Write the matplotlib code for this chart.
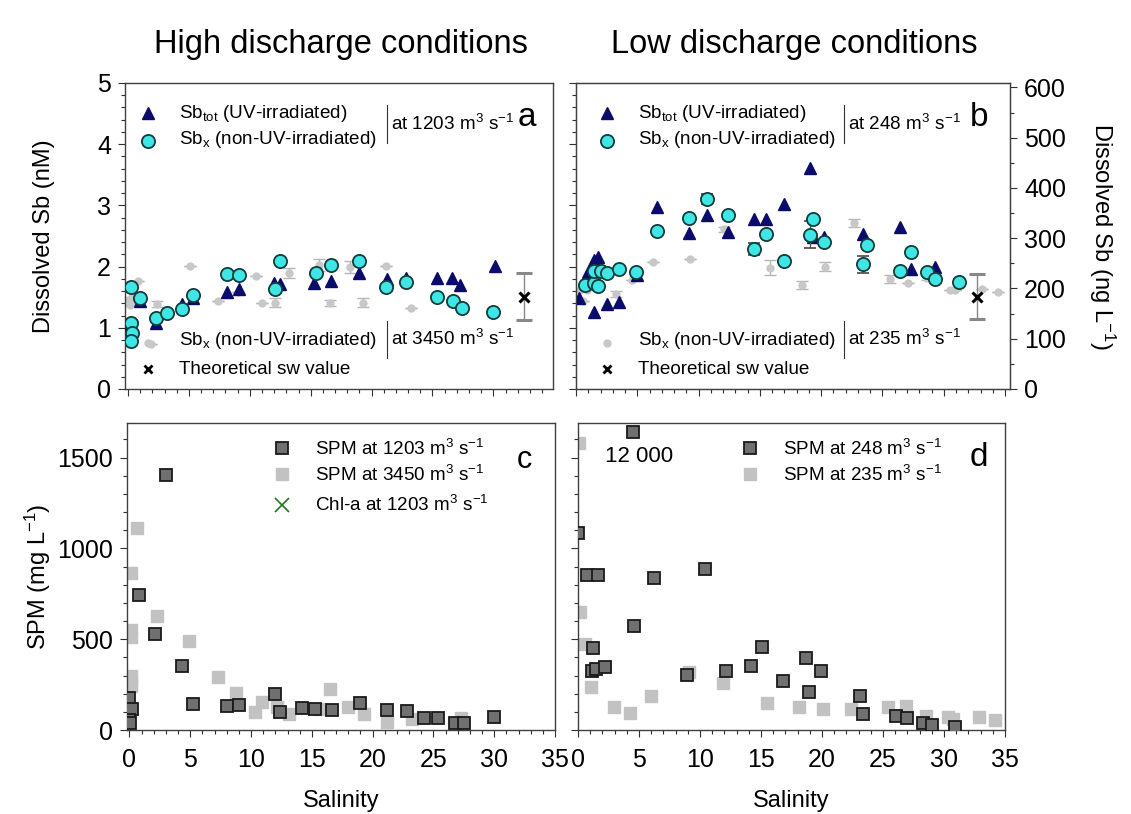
import matplotlib
matplotlib.use("Agg")
import matplotlib.pyplot as plt
from matplotlib.ticker import MultipleLocator
import numpy as np

plt.rcParams['font.family'] = ['Liberation Sans', 'DejaVu Sans']
plt.rcParams['mathtext.fontset'] = 'custom'
plt.rcParams['mathtext.rm'] = 'Liberation Sans'
plt.rcParams['mathtext.default'] = 'regular'

# ---- panel a : high discharge, dissolved Sb (nM) ----
a_tot_s = [0.2, 1.0, 2.3, 4.4, 5.3, 8.1, 9.1, 12.0, 12.5, 15.3, 16.7, 19.0, 21.3, 22.8, 25.4, 26.6, 27.3, 30.1]
a_tot_v = [1.05, 1.44, 1.08, 1.39, 1.49, 1.59, 1.64, 1.74, 1.72, 1.74, 1.77, 1.90, 1.80, 1.81, 1.82, 1.82, 1.70, 2.01]

a_x_s = [0.25, 0.25, 0.3, 0.25, 1.0, 2.3, 3.2, 4.4, 5.3, 8.1, 9.1, 12.1, 12.5, 15.4, 16.7, 19.0, 21.2, 22.8, 25.4, 26.7, 27.4, 30.0]
a_x_v = [1.66, 1.08, 0.92, 0.78, 1.49, 1.16, 1.25, 1.31, 1.54, 1.88, 1.87, 1.63, 2.09, 1.90, 2.02, 2.09, 1.66, 1.75, 1.51, 1.43, 1.33, 1.26]

a_hi_s = [0.1, 0.2, 0.3, 0.4, 0.3, 0.8, 1.9, 2.4, 5.1, 7.4, 9.0, 10.5, 11.0, 12.1, 13.2, 15.7, 16.6, 18.2, 19.3, 21.2, 23.2, 27.2]
a_hi_v = [1.45, 1.38, 1.50, 1.42, 1.11, 1.77, 0.74, 1.39, 2.01, 1.44, 1.58, 1.84, 1.41, 1.41, 1.90, 2.03, 1.41, 1.99, 1.41, 2.01, 1.33, 1.38]
a_hi_e = [0, 0, 0, 0, 0, 0, 0, 0.05, 0, 0, 0, 0, 0, 0.07, 0.08, 0.10, 0.05, 0.10, 0.07, 0, 0, 0]

a_sw = (32.5, 1.51, 0.38)

# ---- panel b : low discharge, dissolved Sb (nM) ----
b_tot_s = [0.25, 1.0, 1.5, 1.8, 1.9, 1.5, 2.5, 3.5, 5.0, 6.6, 9.2, 10.7, 12.4, 14.5, 15.5, 17.0, 19.1, 19.3, 20.2, 23.4, 26.4, 27.3, 29.3]
b_tot_v = [1.49, 1.91, 2.11, 2.16, 2.03, 1.26, 1.39, 1.42, 1.86, 2.97, 2.55, 2.84, 2.57, 2.78, 2.78, 3.02, 3.61, 2.48, 2.48, 2.53, 2.65, 1.96, 1.99]

b_x_s = [0.7, 1.5, 1.8, 1.5, 2.0, 2.5, 3.5, 4.9, 6.6, 9.2, 10.7, 12.4, 14.5, 15.5, 17.0, 19.3, 19.1, 20.2, 23.7, 23.4, 26.4, 27.3, 28.6, 29.3, 31.2]
b_x_v = [1.70, 1.73, 1.68, 1.93, 1.93, 1.90, 1.96, 1.91, 2.58, 2.79, 3.10, 2.84, 2.29, 2.53, 2.09, 2.78, 2.52, 2.40, 2.35, 2.04, 1.93, 2.24, 1.91, 1.80, 1.75]
b_x_e = [0, 0, 0, 0, 0, 0, 0, 0, 0, 0, 0.08, 0, 0.10, 0, 0, 0, 0.22, 0, 0, 0.14, 0.04, 0, 0, 0, 0.04]

b_lo_s = [0.3, 0.6, 0.9, 1.3, 3.3, 4.6, 6.3, 9.3, 12.1, 15.8, 18.4, 20.3, 22.7, 25.6, 27.1, 28.6, 30.5, 30.9, 33.1, 34.4]
b_lo_v = [1.62, 1.43, 1.62, 1.70, 1.55, 1.78, 2.08, 2.12, 2.61, 1.98, 1.70, 2.00, 2.71, 1.80, 1.73, 1.81, 1.62, 1.62, 1.63, 1.58]
b_lo_e = [0, 0, 0, 0, 0.05, 0, 0, 0, 0.04, 0.12, 0.06, 0.07, 0.06, 0.06, 0, 0.03, 0, 0, 0, 0]

b_sw = (32.7, 1.51, 0.37)

# ---- panel c : SPM high discharge (mg/L) ----
c_dark_s = [3.0, 0.75, 2.1, 4.3, 0.0, 0.2, 0.0, 0.05, 5.2, 8.0, 9.0, 12.0, 12.4, 14.2, 15.3, 16.7, 19.0, 21.2, 22.8, 24.2, 25.4, 26.8, 27.5, 30.0]
c_dark_v = [1405, 741, 527, 351, 176, 115, 55, 38, 143, 132, 137, 198, 99, 121, 115, 110, 148, 110, 104, 66, 66, 38, 38, 71]

c_light_s = [0.65, 0.15, 2.3, 4.9, 0.1, 0.1, 0.1, 0.1, 0.1, 7.3, 8.8, 10.3, 10.9, 12.1, 13.1, 15.6, 16.5, 18.0, 19.3, 21.2, 23.2, 27.3]
c_light_v = [1110, 862, 626, 489, 550, 510, 300, 240, 270, 291, 203, 99, 154, 126, 88, 115, 225, 126, 88, 44, 60, 66]

# ---- panel d : SPM low discharge (mg/L) ----
d_dark_s = [4.5, 0.0, 0.75, 1.65, 6.2, 10.4, 4.6, 1.2, 1.15, 1.5, 2.2, 8.9, 12.1, 14.2, 15.1, 16.8, 18.7, 18.9, 19.9, 23.1, 23.4, 26.1, 27.0, 28.3, 29.0, 30.9]
d_dark_v = [12000, 1087, 851, 856, 834, 884, 571, 450, 324, 335, 346, 302, 324, 351, 456, 269, 395, 209, 324, 187, 88, 77, 66, 38, 27, 16]

d_light_s = [0.1, 0.2, 0.55, 1.1, 2.95, 4.3, 6.0, 9.1, 11.9, 15.5, 18.1, 20.1, 22.4, 25.4, 26.9, 28.5, 30.3, 30.7, 32.9, 34.2]
d_light_v = [1581, 648, 472, 236, 126, 93, 187, 318, 258, 148, 126, 115, 115, 126, 132, 77, 71, 60, 71, 55]

NM_TO_NG = 121.76  # ng/L per nM of Sb

W, H = 1131, 814
NAVY = '#0b0b6b'
CYAN = '#3ee6e6'
LGRAY = '#c8c8c8'
DGRAY = '#707070'
SQGRAY = '#c2c2c2'
TICK = 18
LAB = 17
LEG = 13.6


def fx(px):
    return px / W


def fy(py):
    return 1 - py / H


def box(l, t, r, b):
    return [fx(l), fy(b), (r - l) / W, (b - t) / H]


fig = plt.figure(figsize=(W / 100, H / 100), dpi=100)
ax_a = fig.add_axes(box(125, 83, 553, 389))
ax_b = fig.add_axes(box(576, 83, 1010, 389))
ax_c = fig.add_axes(box(127, 423, 555, 730))
ax_d = fig.add_axes(box(578, 423, 1005, 730))

for ax in (ax_a, ax_b, ax_c, ax_d):
    for sp in ax.spines.values():
        sp.set_color('#404040')
        sp.set_linewidth(1.0)
    ax.tick_params(which='both', direction='out', labelsize=TICK, width=0.8, color='#303030')
    ax.tick_params(which='major', length=5, pad=5)
    ax.tick_params(which='minor', length=3)
    ax.xaxis.set_major_locator(MultipleLocator(5))
    ax.xaxis.set_minor_locator(MultipleLocator(1))


def sb_panel(ax, tot_s, tot_v, x_s, x_v, x_e, g_s, g_v, g_e, sw):
    ax.errorbar(g_s, g_v, yerr=g_e, fmt='o', ms=5, color=LGRAY, ecolor='#b5b5b5',
                elinewidth=1, capsize=4, zorder=2)
    ax.plot(tot_s, tot_v, '^', ms=8.5, color=NAVY, mec=NAVY, zorder=3, lw=0)
    ax.errorbar(x_s, x_v, yerr=x_e, fmt='o', ms=9.5, mfc=CYAN, mec='#143c3c', mew=1.3,
                ecolor='#555555', elinewidth=1, capsize=4, zorder=4)
    ax.errorbar([sw[0]], [sw[1]], yerr=[sw[2]], fmt='x', ms=7, mew=2.2, color='black',
                ecolor='#888888', elinewidth=1, capsize=6, zorder=5)
    ax.set_ylim(0, 5)
    ax.yaxis.set_major_locator(MultipleLocator(1))
    ax.yaxis.set_minor_locator(MultipleLocator(0.2))
    ax.tick_params(axis='x', labelbottom=False)


sb_panel(ax_a, a_tot_s, a_tot_v, a_x_s, a_x_v, np.zeros(len(a_x_s)), a_hi_s, a_hi_v, a_hi_e, a_sw)
ax_a.set_xlim(-0.25, 34.9)
ax_a.set_ylabel('Dissolved Sb (nM)', fontsize=LAB, labelpad=30)

sb_panel(ax_b, b_tot_s, b_tot_v, b_x_s, b_x_v, b_x_e, b_lo_s, b_lo_v, b_lo_e, b_sw)
ax_b.set_xlim(0, 35.4)
ax_b.tick_params(axis='y', labelleft=False)
ax_b2 = ax_b.twinx()
ax_b2.set_ylim(0, 5 * NM_TO_NG)
ax_b2.yaxis.set_major_locator(MultipleLocator(100))
ax_b2.yaxis.set_minor_locator(MultipleLocator(50))
ax_b2.tick_params(which='both', direction='out', labelsize=TICK, width=0.8, color='#303030')
ax_b2.tick_params(which='major', length=5, pad=5)
ax_b2.tick_params(which='minor', length=3)
for sp in ax_b2.spines.values():
    sp.set_color('#404040')
ax_b2.set_ylabel('Dissolved Sb (ng L$^{-1}$)', fontsize=LAB, rotation=270, labelpad=37)


def spm_panel(ax, dk_s, dk_v, lt_s, lt_v):
    ax.plot(lt_s, lt_v, 's', ms=8, color=SQGRAY, mec=SQGRAY, lw=0, zorder=2)
    # values above the axis top are drawn at the top edge (one sample is 12 000 mg/L)
    ax.plot(dk_s, np.minimum(dk_v, 1640), 's', ms=8, mfc=DGRAY, mec='#1a1a1a', mew=1.3,
            lw=0, zorder=3)
    ax.set_ylim(0, 1690)
    ax.yaxis.set_major_locator(MultipleLocator(500))
    ax.yaxis.set_minor_locator(MultipleLocator(100))
    ax.tick_params(axis='x', pad=8)
    ax.set_xlabel('Salinity', fontsize=LAB, labelpad=13)


spm_panel(ax_c, c_dark_s, c_dark_v, c_light_s, c_light_v)
ax_c.set_xlim(-0.2, 35)
ax_c.set_ylabel('SPM (mg L$^{-1}$)', fontsize=LAB, labelpad=3)

spm_panel(ax_d, d_dark_s, d_dark_v, d_light_s, d_light_v)
ax_d.set_xlim(0, 35)
ax_d.tick_params(axis='y', labelleft=False)

# titles
fig.text(fx(341), fy(45), 'High discharge conditions', fontsize=23.5, ha='center', va='center')
fig.text(fx(794), fy(45), 'Low discharge conditions', fontsize=23.5, ha='center', va='center')


def fmark(px, py, **kw):
    fig.add_artist(plt.Line2D([fx(px)], [fy(py)], transform=fig.transFigure, lw=0, **kw))


def ftext(px, py, s, size=LEG, **kw):
    fig.text(fx(px), fy(py), s, fontsize=size, va='center', **kw)


def vbar(px, py0, py1):
    fig.add_artist(plt.Line2D([fx(px), fx(px)], [fy(py0), fy(py1)], transform=fig.transFigure,
                              color='#333333', lw=0.8))


# legends a / b
for x0, vx, top_flow, bot_flow, letter, lx in [(148, 387, '1203', '3450', 'a', 518),
                                               (607, 844, '248', '235', 'b', 970)]:
    fmark(x0, 113, marker='^', ms=8.5, color=NAVY)
    ftext(x0 + 31, 114, 'Sb$_{tot}$ (UV-irradiated)')
    fmark(x0, 141, marker='o', ms=9.5, mfc=CYAN, mec='#143c3c', mew=1.3)
    ftext(x0 + 31, 140, 'Sb$_{x}$ (non-UV-irradiated)')
    vbar(vx, 105, 143)
    ftext(vx + 4, 124, 'at %s m$^{3}$ s$^{-1}$' % top_flow)
    ftext(lx, 118, letter, size=24)

    fmark(x0, 343, marker='o', ms=5, color=LGRAY)
    ftext(x0 + 31, 341, 'Sb$_{x}$ (non-UV-irradiated)')
    vbar(vx, 321, 358)
    ftext(vx + 4, 339, 'at %s m$^{3}$ s$^{-1}$' % bot_flow)
    fmark(x0, 369, marker='x', ms=6, mew=2, color='black')
    ftext(x0 + 31, 369, 'Theoretical sw value')

# legends c / d
fmark(282, 448, marker='s', ms=8, mfc=DGRAY, mec='#1a1a1a', mew=1.3)
ftext(315, 449, 'SPM at 1203 m$^{3}$ s$^{-1}$')
fmark(282, 474, marker='s', ms=8, color=SQGRAY)
ftext(315, 475, 'SPM at 3450 m$^{3}$ s$^{-1}$')
fmark(282, 505, marker='x', ms=10, mew=1.2, color='#1f7a1f')
ftext(315, 505, 'Chl-a at 1203 m$^{3}$ s$^{-1}$')
ftext(517, 460, 'c', size=22)

fmark(750, 448, marker='s', ms=8, mfc=DGRAY, mec='#1a1a1a', mew=1.3)
ftext(783, 449, 'SPM at 248 m$^{3}$ s$^{-1}$')
fmark(750, 474, marker='s', ms=8, color=SQGRAY)
ftext(783, 475, 'SPM at 235 m$^{3}$ s$^{-1}$')
ftext(970, 457, 'd', size=24)
ftext(605, 456, '12 000', size=16)

fig.savefig('out.png', dpi=100)
